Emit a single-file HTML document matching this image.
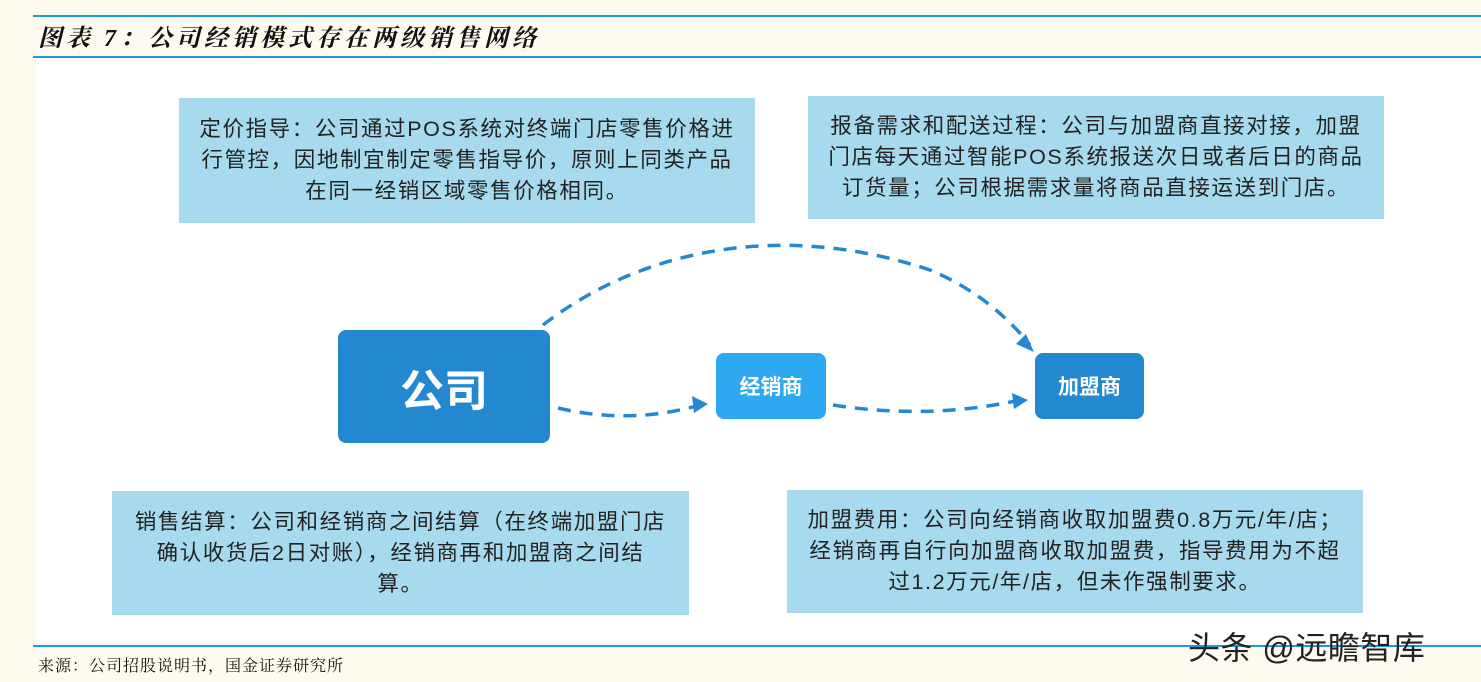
<!DOCTYPE html>
<html><head><meta charset="utf-8"><style>
body{margin:0;width:1481px;height:682px;background:#fffaf0;position:relative;overflow:hidden;font-family:"Liberation Sans","Noto Sans CJK SC",sans-serif}
.w{position:absolute;left:36px;top:57px;width:1445px;height:588px;background:#fff}
.l{position:absolute;left:33px;width:1448px;height:2px;background:#1a9ad6}
.t{position:absolute;background:#a7daef;color:#222;font-size:21.5px;letter-spacing:1.6px;line-height:31px;text-align:center;display:flex;align-items:center;justify-content:center;box-sizing:border-box;padding:0 18px}
.n{position:absolute;color:#fff;font-weight:bold;display:flex;align-items:center;justify-content:center;border-radius:8px}
</style></head><body>
<div class="w"></div>
<div class="l" style="top:15px"></div>
<div class="l" style="top:56px"></div>
<div class="l" style="top:645px"></div>
<div style="position:absolute;left:38px;top:18px;font-size:24px;letter-spacing:4px;font-style:italic;font-weight:bold;font-family:'Liberation Serif','Noto Serif CJK SC',serif;color:#111">图表 7：公司经销模式存在两级销售网络</div>
<div style="position:absolute;left:38px;top:653px;font-size:16px;letter-spacing:1px;font-family:'Liberation Serif','Noto Serif CJK SC',serif;color:#111">来源：公司招股说明书，国金证券研究所</div>
<div style="position:absolute;left:1188px;top:623px;font-size:32px;letter-spacing:0.5px;color:#222">头条 @远瞻智库</div>
<div class="t" style="left:179px;top:98px;width:576px;height:125px">定价指导：公司通过POS系统对终端门店零售价格进行管控，因地制宜制定零售指导价，原则上同类产品在同一经销区域零售价格相同。</div>
<div class="t" style="left:808px;top:96px;width:576px;height:123px">报备需求和配送过程：公司与加盟商直接对接，加盟门店每天通过智能POS系统报送次日或者后日的商品订货量；公司根据需求量将商品直接运送到门店。</div>
<div class="t" style="left:112px;top:491px;width:577px;height:124px;padding:0"><div style="white-space:nowrap">销售结算：公司和经销商之间结算（在终端加盟门店<br>确认收货后2日对账），经销商再和加盟商之间结<br>算。</div></div>
<div class="t" style="left:787px;top:490px;width:576px;height:123px">加盟费用：公司向经销商收取加盟费0.8万元/年/店；经销商再自行向加盟商收取加盟费，指导费用为不超过1.2万元/年/店，但未作强制要求。</div>
<div class="n" style="left:338px;top:330px;width:212px;height:113px;background:#2388cf;font-size:44px">公司</div>
<div class="n" style="left:716px;top:353px;width:110px;height:66px;background:#2ea8f0;font-size:21px">经销商</div>
<div class="n" style="left:1035px;top:353px;width:109px;height:66px;background:#2388cf;font-size:21px">加盟商</div>
<svg style="position:absolute;left:0;top:0" width="1481" height="682">
<g fill="none" stroke="#2388cf" stroke-width="3.5" stroke-dasharray="13,9">
<path d="M543,325 C640,250 780,220 930,270 Q990,295 1030,345"/>
<path d="M558,408 Q630,425 700,405"/>
<path d="M833,405 Q930,420 1020,400"/>
</g>
<g fill="#2388cf">
<path d="M1034,352 L1016,344 L1026,334 Z"/>
<path d="M708,404 L692,396 L694,413 Z"/>
<path d="M1028,400 L1012,393 L1014,409 Z"/>
</g>
</svg>
</body></html>
